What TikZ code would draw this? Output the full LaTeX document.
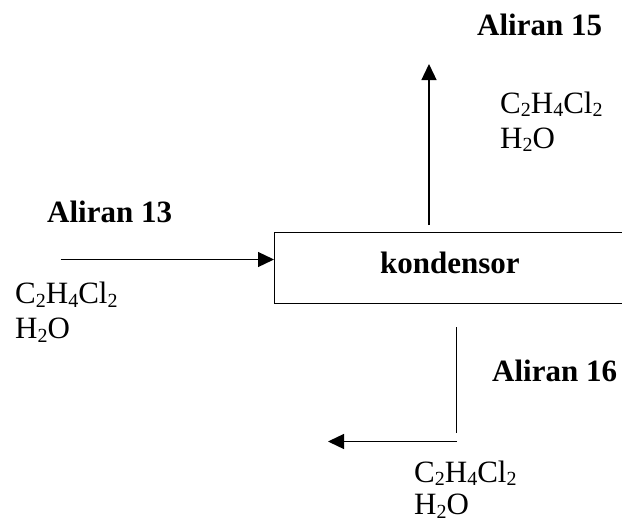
\documentclass[tikz,border=0pt]{standalone}
\usepackage{fontspec}
\setmainfont{Liberation Serif}
\usetikzlibrary{arrows.meta}
\newcommand\mysub[1]{\raisebox{-0.12em}{\fontsize{20}{20}\selectfont #1}}
\newcommand\compA{C\mysub{2}H\mysub{4}Cl\mysub{2}}
\newcommand\compB{H\mysub{2}O}
\tikzset{
  lbl/.style={anchor=base west, inner sep=0pt, font=\fontsize{31}{35}\selectfont},
  blbl/.style={lbl, font=\fontsize{31}{35}\selectfont\bfseries},
  flow/.style={line width=1.3pt, -{Triangle[length=16pt,width=15pt]}},
  plain/.style={line width=1.3pt},
  unit/.style={draw, line width=1.1pt, anchor=north west, minimum width=354pt, minimum height=70.5pt, inner sep=0pt}
}
\begin{document}
\begin{tikzpicture}[x=1pt,y=-1pt]
\useasboundingbox (0,0) rectangle (622,522);
\begin{scope}
\clip (0,0) rectangle (622,522);
\node[unit] (k) at (274,232) {};
\end{scope}
\node[blbl] (ktext) at (380,273) {kondensor};
% stream 13
\node[blbl] (a13) at (47,222) {Aliran 13};
\node[lbl] (c13a) at (15,303.5) {\compA};
\node[lbl] (c13b) at (15,338.5) {\compB};
\coordinate (in13) at (60.5,259.5);
\draw[flow] (in13) -- (in13 -| k.west);
% stream 15
\node[blbl] (a15) at (477,35) {Aliran 15};
\node[lbl] (c15a) at (500,113) {\compA};
\node[lbl] (c15b) at (500,148) {\compB};
\coordinate (s15) at (429,225);
\coordinate (e15) at (429,64);
\draw[flow] (s15) -- (e15);
% stream 16
\node[blbl] (a16) at (492,381.5) {Aliran 16};
\node[lbl] (c16a) at (414,482) {\compA};
\node[lbl] (c16b) at (414,514.5) {\compB};
\coordinate (s16) at (456.5,327);
\coordinate (m16) at (456.5,433);
\coordinate (h16) at (457,441.5);
\coordinate (e16) at (328,441.5);
\draw[plain] (s16) -- (m16);
\draw[flow] (h16) -- (e16);
\end{tikzpicture}
\end{document}
